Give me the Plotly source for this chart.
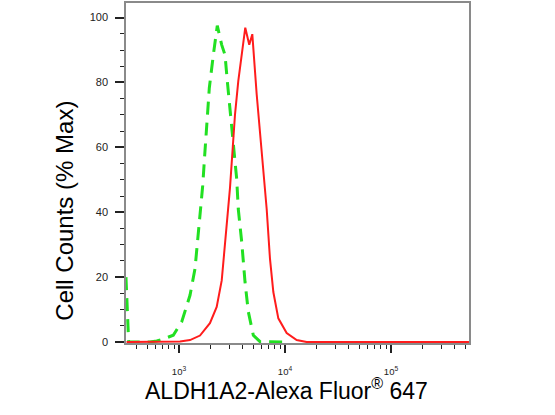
import plotly.graph_objects as go

# isotype control (green dashed)
ctrl_x = [316, 335, 532, 617, 711, 883, 1060, 1270, 1416, 1556, 1674, 1759, 1849, 1932,
          2108, 2297, 2529, 2717, 2857, 3029, 3212, 3377, 3501, 3625, 3906, 4197, 4510,
          5026, 5810, 11140]
ctrl_y = [20, 0, 0, 0.3, 0.9, 2.1, 6.2, 14.4, 22.6, 37.9, 48.2, 58.9, 69.6, 78.3,
          88.5, 97.5, 91.6, 88.5, 80.4, 72.2, 64, 55.8, 50.3, 41, 30.8, 18.5, 9.3,
          2.1, 0.1, 0]

# ALDH1A2 stained sample (red)
stain_x = [320, 738, 1022, 1270, 1578, 1958, 2268, 2530, 2717, 2879, 3029, 3212, 3377,
           3625, 3906, 4219, 4601, 4915, 5408, 5810, 6335, 6718, 7216, 7762, 8650,
           10370, 12890, 16020, 544000]
stain_y = [0, 0, 0.2, 0.6, 2.0, 5.8, 10.8, 19, 29.2, 39.5, 47.6, 61, 70.2,
           80.4, 88.5, 96.9, 91.6, 94.9, 76.3, 64, 49.7, 41, 25.7, 15.4, 7.3,
           2.8, 0.6, 0, 0]

x_major = [1e3, 1e4, 1e5]
x_major_text = ["10<sup>3</sup>", "10<sup>4</sup>", "10<sup>5</sup>"]
x_minor = [400, 500, 600, 700, 800, 900,
           2000, 3000, 4000, 5000, 6000, 7000, 8000, 9000,
           20000, 30000, 40000, 50000, 60000, 70000, 80000, 90000,
           200000, 300000, 400000, 500000]
y_major = [0, 20, 40, 60, 80, 100]

fig = go.Figure()

fig.add_trace(go.Scatter(
    x=ctrl_x, y=ctrl_y, mode='lines',
    line=dict(color='#22e022', width=3, dash='13px,8px'),
    showlegend=False
))
fig.add_trace(go.Scatter(
    x=stain_x, y=stain_y, mode='lines',
    line=dict(color='#ff1c1c', width=2),
    showlegend=False
))

fig.update_xaxes(
    type='log', range=[2.5, 5.736],
    tickmode='array', tickvals=x_major, ticktext=x_major_text,
    ticks='outside', ticklen=8, tickwidth=2, tickcolor='#222',
    ticklabelstandoff=11,
    minor=dict(tickmode='array', tickvals=x_minor, ticks='outside',
               ticklen=4, tickwidth=1, tickcolor='#222'),
    showline=True, linecolor='#8a8a8a', linewidth=1.5, mirror=True,
    showgrid=False, zeroline=False,
    tickfont=dict(family='Arial', size=9.5, color='#222')
)
fig.update_yaxes(
    range=[-0.3, 104.5],
    tickmode='array', tickvals=y_major,
    ticks='outside', ticklen=9, tickwidth=2, tickcolor='#222',
    ticklabelstandoff=5,
    minor=dict(dtick=5, ticks='outside', ticklen=4, tickwidth=1, tickcolor='#222'),
    showline=True, linecolor='#8a8a8a', linewidth=1.5, mirror=True,
    showgrid=False, zeroline=False,
    tickfont=dict(family='Arial', size=11, color='#222')
)

fig.add_annotation(
    text="ALDH1A2-Alexa Fluor<sup>®</sup> 647",
    xref='paper', yref='paper', x=0.468, y=-0.135,
    showarrow=False, font=dict(family='Arial', size=23, color='black'),
    xanchor='center', yanchor='middle'
)
fig.add_annotation(
    text="Cell Counts (% Max)",
    xref='paper', yref='paper', x=-0.178, y=0.389,
    showarrow=False, textangle=-90,
    font=dict(family='Arial', size=24, color='black'),
    xanchor='center', yanchor='middle'
)

fig.update_layout(
    width=555, height=415,
    margin=dict(l=126, r=86, t=1, b=72),
    plot_bgcolor='white', paper_bgcolor='white'
)

# page default body margin would shift the figure by 8px
fig.write_html("out.html", config={'displayModeBar': False},
               post_script="document.body.style.margin='0';")
